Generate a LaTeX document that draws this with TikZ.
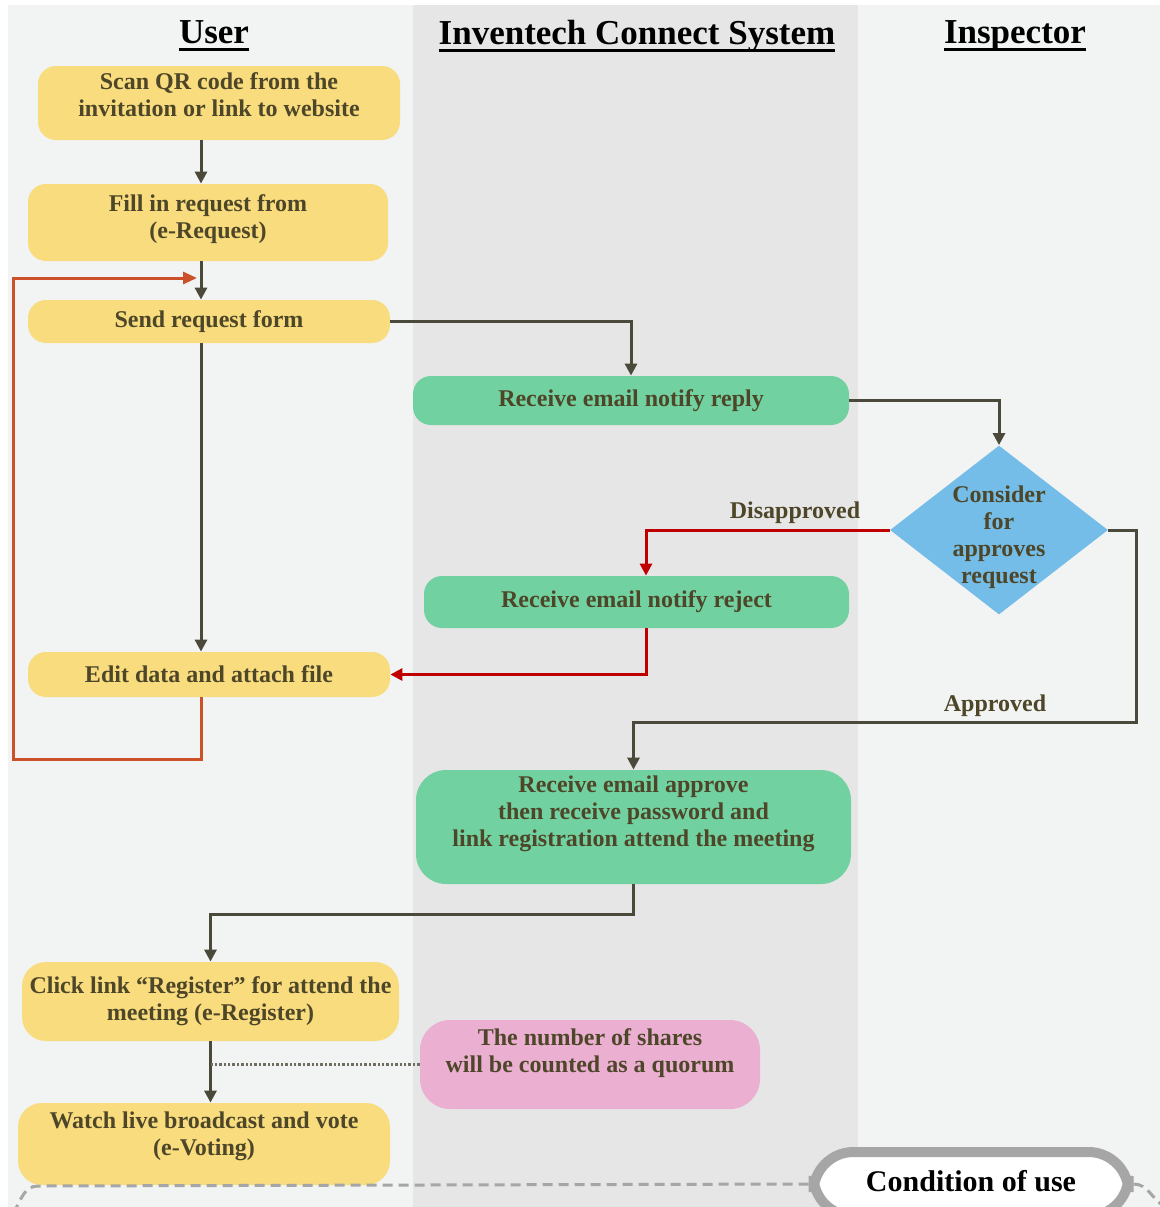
\documentclass[tikz,border=0pt]{standalone}
\usepackage{fontspec}
\setmainfont{Liberation Serif}
\usetikzlibrary{shapes.geometric,arrows.meta}
\definecolor{ylw}{HTML}{F8DC7E}
\definecolor{grn}{HTML}{72D1A0}
\definecolor{blu}{HTML}{74BDE8}
\definecolor{pnk}{HTML}{EBAFD1}
\definecolor{lanea}{HTML}{F2F3F3}
\definecolor{laneb}{HTML}{E7E6E7}
\definecolor{ink}{HTML}{4D4628}
\definecolor{arrc}{HTML}{4B4A3A}
\definecolor{rejc}{HTML}{C00000}
\definecolor{backc}{HTML}{CC5028}
\definecolor{condc}{HTML}{A6A6A6}
\newcommand\lanehead[1]{\setbox0\hbox{#1}\rlap{\vrule height -2.2pt depth 3.7pt width \wd0}\box0}
\newcommand\lift[1]{\rule[-#1]{0pt}{#1}}
\begin{document}
\begin{tikzpicture}[
x=0.5pt,y=-0.5pt,
every node/.style={font=\bfseries\fontsize{12}{13.5}\selectfont,text=ink,align=center,inner sep=0pt},
head/.style={font=\bfseries\fontsize{17.5}{20}\selectfont,text=black},
ubox/.style={rounded corners=9pt,fill=ylw},
sbox/.style={rounded corners=9pt,fill=grn},
flow/.style={draw=arrc,line width=1.5pt,-{Triangle[width=6pt,length=6pt]}},
nope/.style={draw=rejc,line width=1.5pt,-{Triangle[width=6pt,length=6pt]}},
retry/.style={draw=backc,line width=1.5pt,-{Triangle[width=6pt,length=7pt]}},
dotlink/.style={draw=arrc!80,line width=1.2pt,dash pattern=on 1.2pt off 1pt},
cline/.style={draw=condc,line width=1.5pt,dash pattern=on 5pt off 3pt}
]
\useasboundingbox (0,0) rectangle (1160,1207);
\clip (0,0) rectangle (1160,1207);
\fill[white] (0,0) rectangle (1160,1207);
\fill[lanea] (8,5) rectangle (413,1207);
\fill[laneb] (413,5) rectangle (858,1207);
\fill[lanea] (858,5) rectangle (1160,1207);

\node[head] (hu) at (214,36) {\lanehead{User}};
\node[head] (hs) at (637,36) {\lanehead{Inventech Connect System}};
\node[head] (hi) at (1015,36) {\lanehead{Inspector}};

\coordinate (ucol) at (201,0);
\coordinate (rx) at (646,0);
\coordinate (turn) at (1136,722);
\coordinate (lp) at (13,759);
\coordinate (back) at (197,278);

\node[ubox,minimum width=181pt,minimum height=37pt] (scan) at (219,103) {Scan QR code from the\\invitation or link to website\lift{8pt}};
\node[ubox,minimum width=180pt,minimum height=38.5pt] (fill) at (208,222.5) {Fill in request from\\(e-Request)\lift{6pt}};
\node[ubox,minimum width=181pt,minimum height=21.5pt] (send) at (209,321.5) {Send request form};
\node[sbox,minimum width=218pt,minimum height=24.5pt] (reply) at (631,400.5) {Receive email notify reply};
\node[diamond,fill=blu,inner sep=-15pt,minimum width=109pt,minimum height=84.5pt] (dia) at (999,530) {\rule{0pt}{16pt}Consider\\for\\approves\\request};
\node[sbox,minimum width=212.5pt,minimum height=26pt] (rej) at (636.5,602) {Receive email notify reject};
\node[ubox,minimum width=181pt,minimum height=22.5pt] (edit) at (209,674.5) {Edit data and attach file};
\node[sbox,rounded corners=15pt,minimum width=217.5pt,minimum height=57pt] (appr) at (633.5,827) {Receive email approve\\then receive password and\\link registration attend the meeting\lift{15.6pt}};
\node[ubox,rounded corners=12pt,minimum width=188.5pt,minimum height=39.5pt] (clk) at (210.5,1001.5) {Click link “Register” for attend the\\meeting (e-Register)};
\node[rounded corners=15pt,fill=pnk,minimum width=170pt,minimum height=44.5pt] (note) at (590,1064.5) {The number of shares\\will be counted as a quorum\lift{13.6pt}};
\node[ubox,rounded corners=12pt,minimum width=186pt,minimum height=41pt] (watch) at (204,1144) {Watch live broadcast and vote\\(e-Voting)\lift{10.6pt}};
\node[draw=condc,line width=5pt,fill=white,rounded corners=20pt,minimum width=157.5pt,minimum height=32pt,text=black,font=\bfseries\fontsize{15}{18}\selectfont] (cond) at (971,1184) {\raisebox{3pt}{Condition of use}};

\node (dis) at (795,513) {Disapproved};
\node (ok) at (995,706) {Approved};

\draw[flow] (scan.south -| ucol) -- (fill.north -| ucol);
\draw[flow] (fill.south -| ucol) -- (send.north -| ucol);
\draw[flow] (send.east) -| (reply.north);
\draw[flow] (send.south -| ucol) -- (edit.north -| ucol);
\draw[flow] (reply.east) -| (dia.north);
\draw[nope] (dia.west) -| (rej.north -| rx);
\draw[nope] (rej.south -| rx) |- (edit.east);
\draw[retry] (edit.south -| ucol) |- (lp) |- (back);
\draw[flow] (dia.east) -| (turn) -| (appr.north);
\draw[flow] (appr.south) -- ++(0,30) -| (clk.north);
\draw[flow] (clk.south) -- (clk.south |- watch.north);
\draw[dotlink] (note.west) -- (note.west -| clk.south);
\draw[cline] (cond.west) -- (38,1186) to[out=180,in=60] (14,1212);
\draw[cline] (cond.east) to[out=0,in=150] (1164,1206);
\end{tikzpicture}
\end{document}
